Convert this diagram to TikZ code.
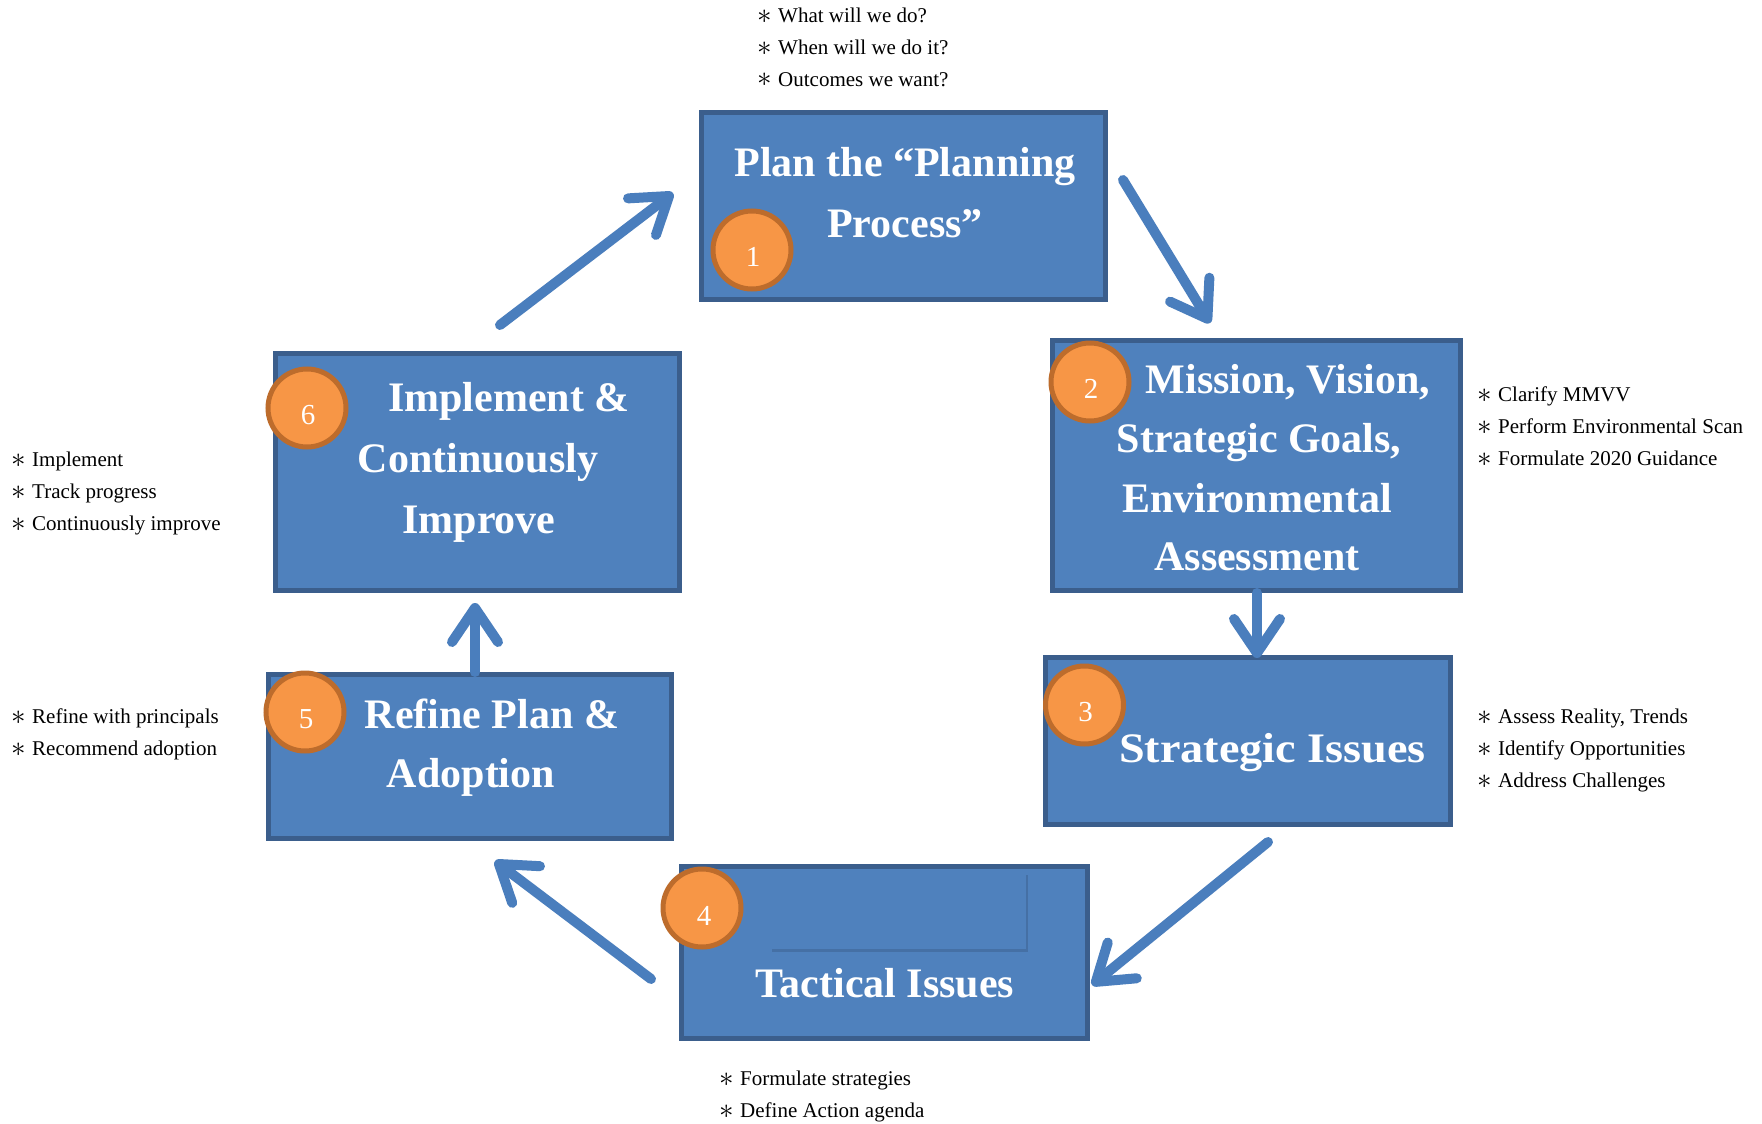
\documentclass[tikz,border=0pt]{standalone}
\usepackage{fontspec}
\setmainfont{Liberation Serif}
\usetikzlibrary{arrows.meta,shadows}
\definecolor{boxblue}{HTML}{4F81BD}
\definecolor{boxedge}{HTML}{3B5E8C}
\definecolor{arrowblue}{HTML}{4A7EBD}
\definecolor{circfill}{HTML}{F79646}
\definecolor{circedge}{HTML}{BD6C2C}
\begin{document}
\begin{tikzpicture}[x=1pt,y=-1pt,
  stagebox/.style={draw=boxedge, line width=5pt, fill=boxblue, inner sep=0pt},
  title/.style={anchor=base, text=white, font=\fontsize{42}{50}\bfseries\selectfont, inner sep=0pt},
  numcirc/.style={circle, draw=circedge, line width=5pt, fill=circfill, minimum size=78pt, inner sep=0pt},
  numtext/.style={text=white, font=\fontsize{29}{30}\selectfont, inner sep=0pt},
  flow/.style={draw=arrowblue, line width=10pt, line cap=round, -{Straight Barb[length=34pt,width=46pt,round]}},
  bul/.style={anchor=base west, inner sep=0pt, font=\fontsize{21}{32}\selectfont},
]
\useasboundingbox (0,0) rectangle (1762,1124);
\fill[white] (0,0) rectangle (1762,1124);

% boxes
\node[stagebox, minimum width=404pt, minimum height=187pt] (b1) at (903.5,206) {};
\node[stagebox, minimum width=408pt, minimum height=250pt] (b2) at (1256.5,465.5) {};
\node[stagebox, minimum width=405pt, minimum height=167pt] (b3) at (1248,741) {};
\node[stagebox, minimum width=406pt, minimum height=172pt] (b4) at (884.5,952.5) {};
\node[stagebox, minimum width=403pt, minimum height=164pt] (b5) at (470,756.5) {};
\node[stagebox, minimum width=404pt, minimum height=237pt] (b6) at (477.5,472) {};

% inner rectangle of box 4
\node[fill=boxblue, minimum width=256pt, minimum height=77pt, inner sep=0pt,
      drop shadow={shadow xshift=2pt, shadow yshift=-3pt, opacity=0.3, fill=boxedge!80!black}] (b4in) at (898,910.5) {};

% titles
\node[title] (t1a) at (905,176) {Plan the “Planning};
\node[title] (t1b) at (905,237) {Process”};
\node[title] (t2a) at (1288,393) {Mission, Vision,};
\node[title] (t2b) at (1259,452) {Strategic Goals,};
\node[title] (t2c) at (1257,512) {Environmental};
\node[title] (t2d) at (1257,570) {Assessment};
\node[title] (t3) at (1272.5,762) {\scalebox{1.1}[1]{Strategic Issues}};
\node[title] (t4) at (885,997) {Tactical Issues};
\node[title] (t5a) at (492,728) {Refine Plan \&};
\node[title] (t5b) at (471,787) {Adoption};
\node[title] (t6a) at (509,411) {Implement \&};
\node[title] (t6b) at (478,472) {Continuously};
\node[title] (t6c) at (479,533) {Improve};

% number circles
\node[numcirc] (c1) at (752,250) {};
\node[numcirc] (c2) at (1090,382) {};
\node[numcirc] (c3) at (1084.5,705) {};
\node[numcirc] (c4) at (702,908) {};
\node[numcirc] (c5) at (305,712) {};
\node[numcirc] (c6) at (307,408) {};
\node[numtext] (n1) at (753,257) {1};
\node[numtext] (n2) at (1091,389) {2};
\node[numtext] (n3) at (1085.5,712) {3};
\node[numtext] (n4) at (704,916) {4};
\node[numtext] (n5) at (306,719) {5};
\node[numtext] (n6) at (308,415) {6};

% arrows
\coordinate (a61s) at (500,325);  \coordinate (a61e) at (673,193);
\coordinate (a12s) at (1123,180); \coordinate (a12e) at (1210,323);
\coordinate (a23s) at (1257,593); \coordinate (a23e) at (1257,658);
\coordinate (a34s) at (1268,842); \coordinate (a34e) at (1092,985);
\coordinate (a45s) at (651,979);  \coordinate (a45e) at (495,861);
\coordinate (a56s) at (475,672);  \coordinate (a56e) at (475,603);
\draw[flow] (a61s) -- (a61e);
\draw[flow] (a12s) -- (a12e);
\draw[flow] (a23s) -- (a23e);
\draw[flow] (a34s) -- (a34e);
\draw[flow] (a45s) -- (a45e);
\draw[flow] (a56s) -- (a56e);

% bullet lists
\newcommand{\bulstar}{\makebox[21pt][l]{\raisebox{-1pt}{\scalebox{1.4}{$\ast$}}}}
\node[bul] (p1a) at (757,23) {\bulstar What will we do?};
\node[bul] (p1b) at (757,55) {\bulstar When will we do it?};
\node[bul] (p1c) at (757,86) {\bulstar Outcomes we want?};
\node[bul] (p2a) at (1477,401) {\bulstar Clarify MMVV};
\node[bul] (p2b) at (1477,433) {\bulstar Perform Environmental Scan};
\node[bul] (p2c) at (1477,465) {\bulstar Formulate 2020 Guidance};
\node[bul] (p3a) at (1477,723) {\bulstar Assess Reality, Trends};
\node[bul] (p3b) at (1477,755) {\bulstar Identify Opportunities};
\node[bul] (p3c) at (1477,787) {\bulstar Address Challenges};
\node[bul] (p4a) at (719,1085) {\bulstar Formulate strategies};
\node[bul] (p4b) at (719,1117) {\bulstar Define Action agenda};
\node[bul] (p5a) at (11,723) {\bulstar Refine with principals};
\node[bul] (p5b) at (11,755) {\bulstar Recommend adoption};
\node[bul] (p6a) at (11,466) {\bulstar Implement};
\node[bul] (p6b) at (11,498) {\bulstar Track progress};
\node[bul] (p6c) at (11,530) {\bulstar Continuously improve};
\end{tikzpicture}
\end{document}
